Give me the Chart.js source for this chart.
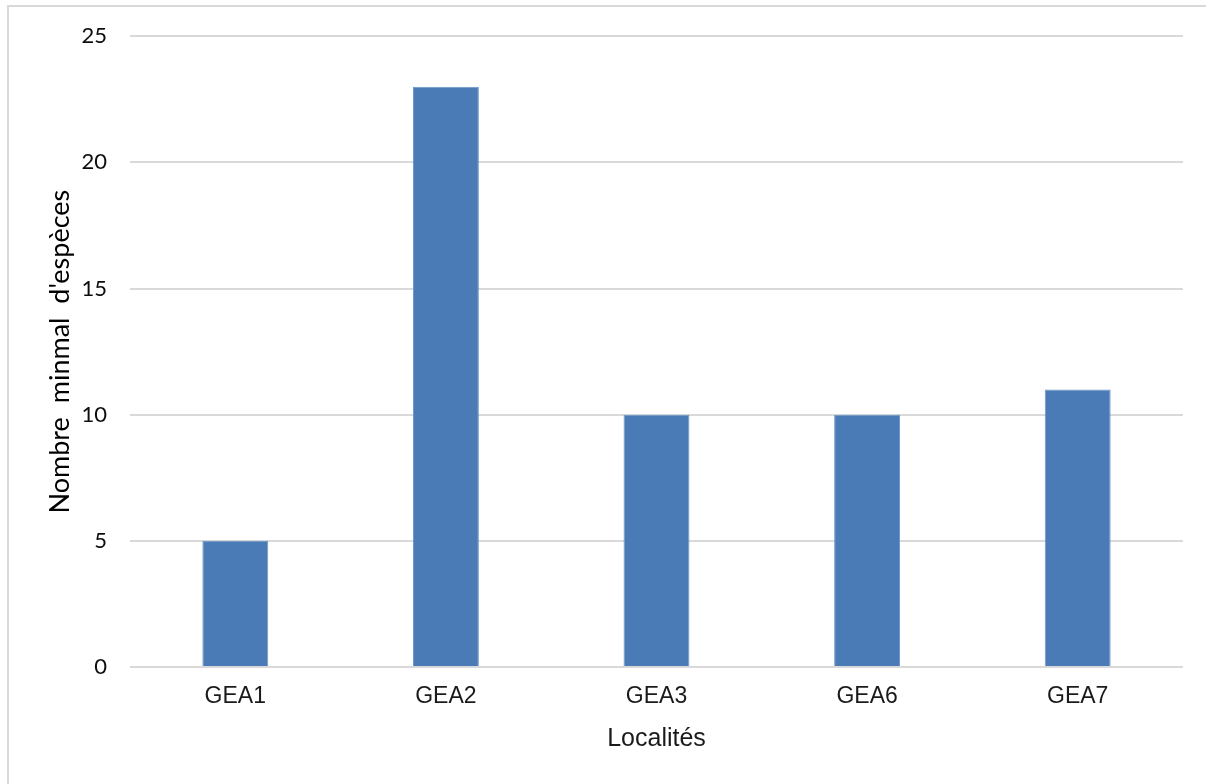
<!DOCTYPE html>
<html>
<head>
<meta charset="utf-8">
<script src="https://cdn.jsdelivr.net/npm/chart.js@4"></script>
<style>
    html, body { margin: 0; padding: 0; background: #fff; }
    #frame { position: absolute; left: 7px; top: 5px; width: 1197px; height: 777px;
             border-top: 2px solid #d9d9d9; border-left: 2px solid #d9d9d9; }
    #wrap { position: absolute; left: 0; top: 0; width: 1206px; height: 784px; }
</style>
</head>
<body>
<div id="frame"></div>
<div id="wrap"><canvas id="barChart" width="1206" height="784"></canvas></div>
<script>
// Données du graphique
const localites = ['GEA1', 'GEA2', 'GEA3', 'GEA6', 'GEA7'];
const nbEspeces = [5, 23, 10, 10, 11];
const yTicks = [0, 5, 10, 15, 20, 25];

const ctx = document.getElementById('barChart');

new Chart(ctx.getContext('2d'), {
    type: 'bar',
    data: {
        labels: localites,
        datasets: [{
            label: "Nombre minmal d'espèces",
            data: nbEspeces,
            backgroundColor: '#4a7bb7',
            borderColor: '#6a95c8',
            borderWidth: 1,
            barPercentage: 0.313,
            categoryPercentage: 1
        }]
    },
    options: {
        responsive: false,
        animation: false,
        layout: {
            padding: { left: 8, right: 23, top: 34, bottom: 0 }
        },
        plugins: {
            legend: { display: false },
            tooltip: { enabled: false }
        },
        scales: {
            x: {
                grid: { display: false, drawTicks: false },
                border: { display: false },
                ticks: {
                    color: '#1a1a1a',
                    padding: 16,
                    font: { family: 'Liberation Sans', size: 23 }
                },
                title: {
                    display: true,
                    text: 'Localités',
                    color: '#1a1a1a',
                    font: { family: 'Liberation Sans', size: 25 },
                    padding: { top: 0, bottom: 30 }
                },
                afterFit: (scale) => { scale.height = 117; }
            },
            y: {
                min: 0,
                max: 25,
                afterBuildTicks: (scale) => {
                    scale.ticks = yTicks.map(v => ({ value: v }));
                },
                grid: {
                    color: '#d9d9d9',
                    lineWidth: 2,
                    drawTicks: false
                },
                border: { display: false },
                ticks: {
                    color: '#0d0d0d',
                    padding: 23,
                    font: { family: 'Lato', size: 22 }
                },
                title: {
                    display: true,
                    text: "Nombre  minmal  d'espèces",
                    color: '#000000',
                    font: { family: 'Lato', size: 27 },
                    padding: { top: 36, bottom: 0 }
                },
                afterFit: (scale) => { scale.width = 122; }
            }
        }
    }
});
</script>
</body>
</html>
